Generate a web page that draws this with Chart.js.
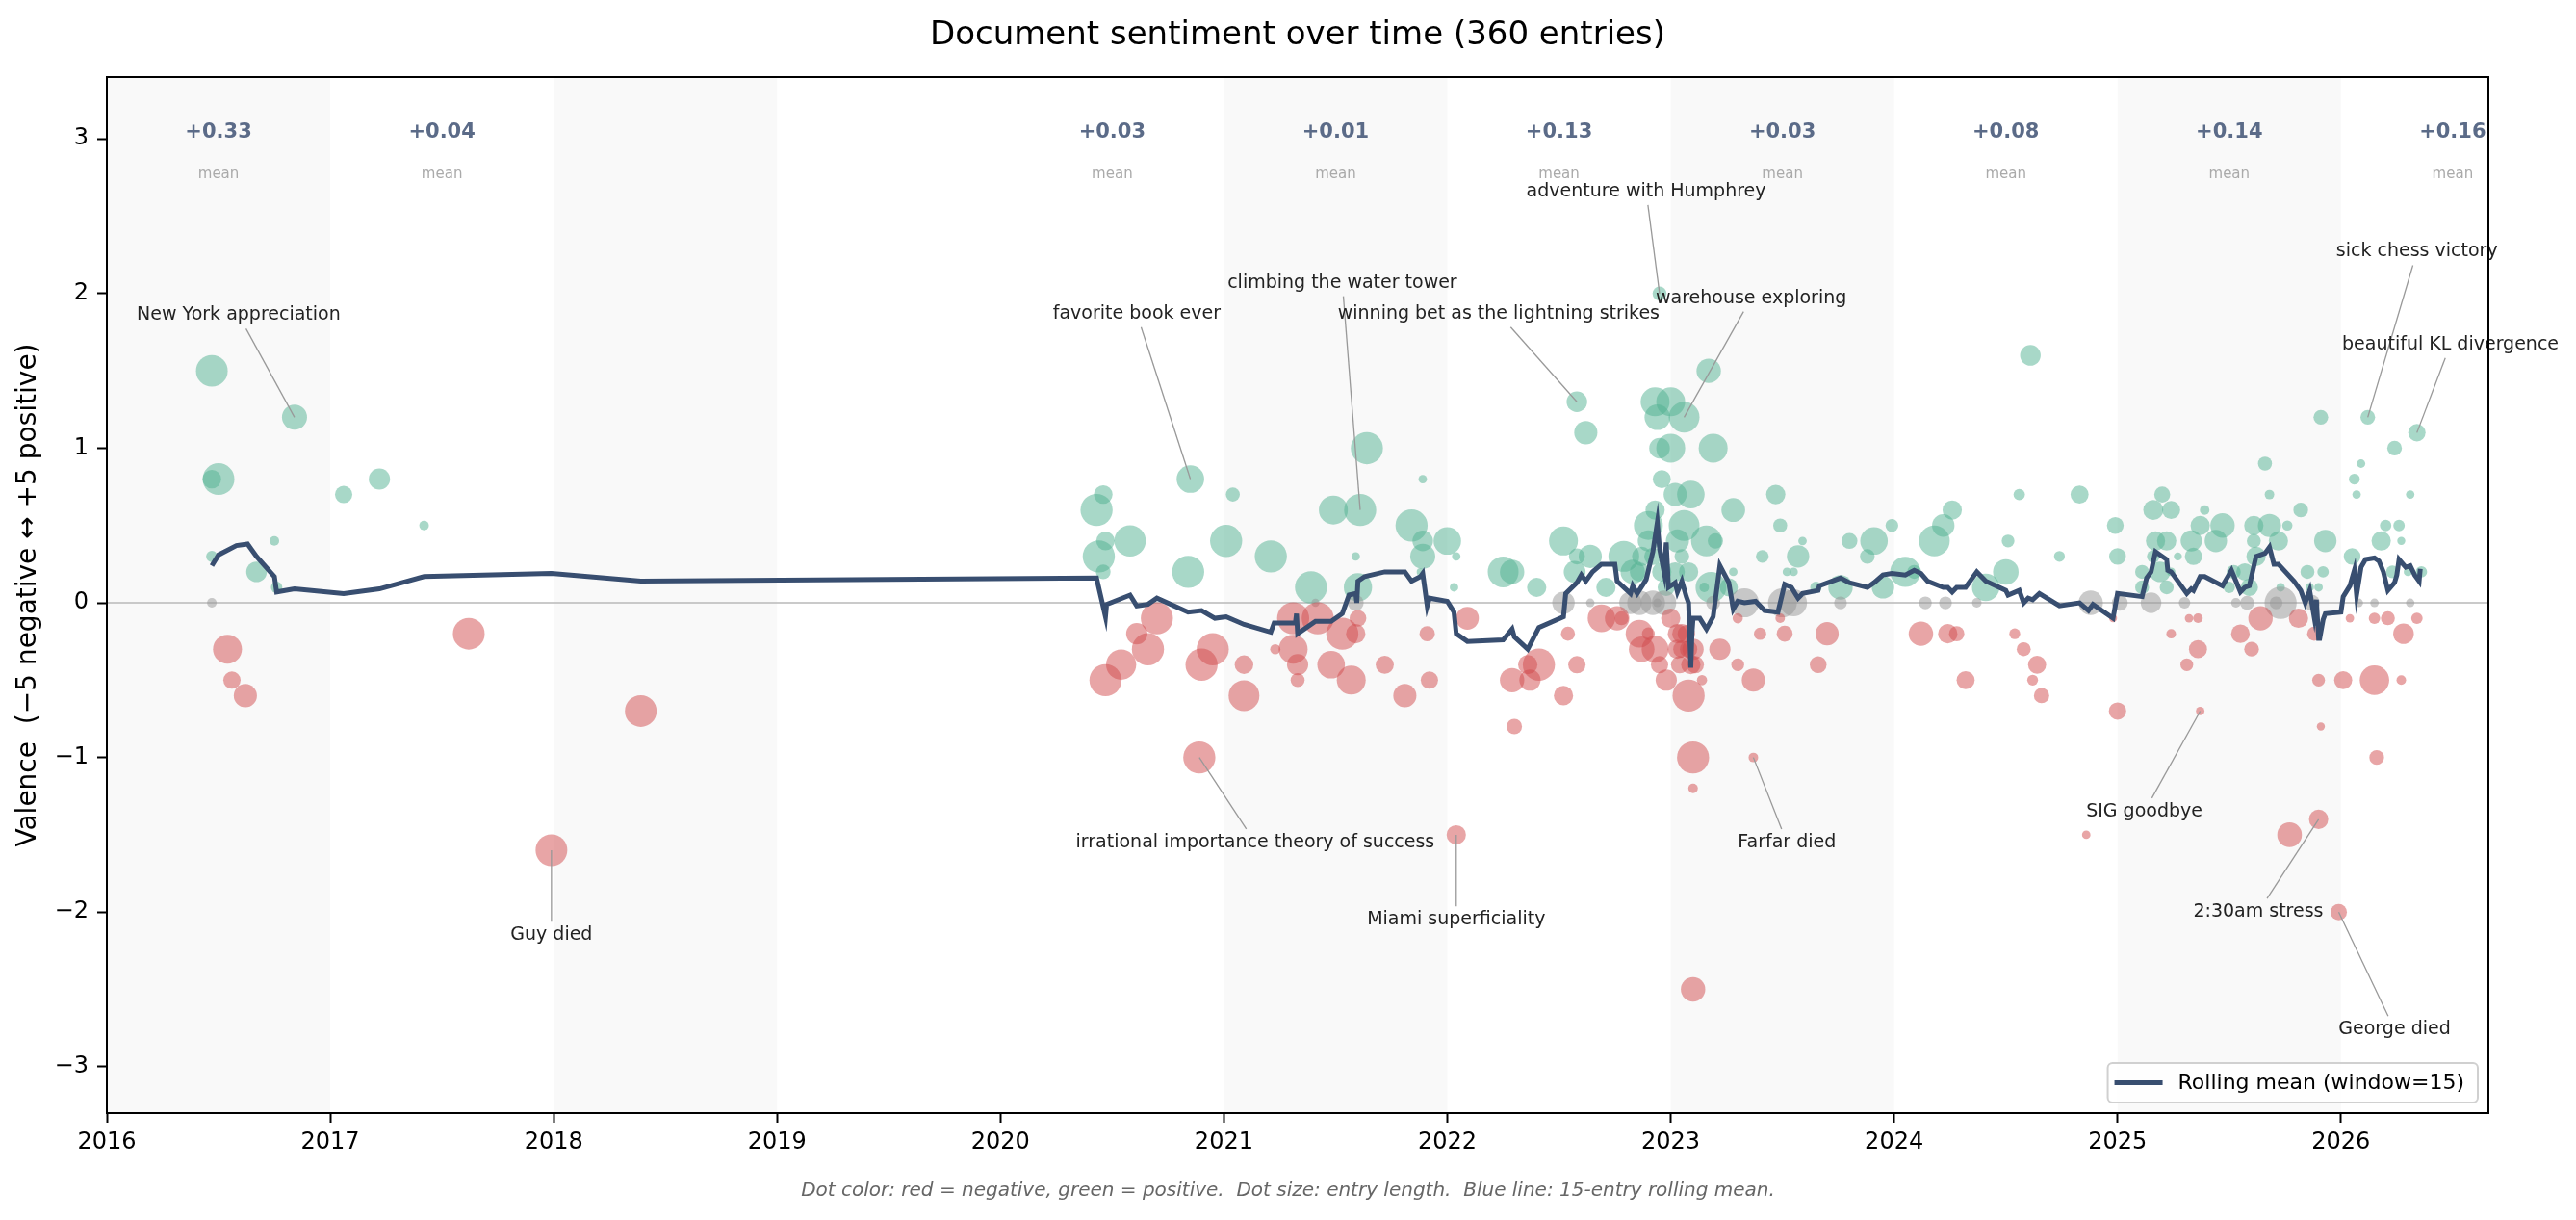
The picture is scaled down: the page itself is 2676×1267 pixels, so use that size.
<!DOCTYPE html>
<html>
<head>
<meta charset="utf-8">
<title>Document sentiment over time</title>
<script src="https://cdn.jsdelivr.net/npm/chart.js@4.4.1/dist/chart.umd.min.js"></script>
<style>
  html, body { margin: 0; padding: 0; background: #fff; }
  canvas { display: block; }
</style>
</head>
<body>
<canvas id="sentimentChart" width="2676" height="1267" style="width:2676px;height:1267px"></canvas>
<script>
// ---- data ----
// entry date as decimal year, valence, entry length (words, approx.)
var entryDate = [
  // 2016 - 2018
  2016.47, 2016.84, 2016.50, 2016.47, 2017.06, 2017.22, 2017.42, 2016.75, 2016.47, 2016.67, 2016.76, 2016.47,
  2016.54, 2016.56, 2016.62, 2017.62, 2018.39, 2017.99,
  // 2020 - 2022 positive / neutral
  2020.46, 2020.43, 2020.47, 2020.58, 2020.44, 2020.46, 2020.85, 2021.04, 2020.84, 2021.01, 2021.21, 2021.39,
  2021.41, 2021.49, 2021.61, 2021.64, 2021.59, 2021.60, 2021.59, 2021.89, 2021.84, 2021.89, 2021.89, 2022.00,
  2022.04, 2022.03, 2021.88,
  // 2020 - 2022 negative
  2020.70, 2020.61, 2020.66, 2020.54, 2020.47, 2020.95, 2020.90, 2020.89, 2021.09, 2021.09, 2021.23, 2021.31,
  2021.42, 2021.31, 2021.33, 2021.33, 2021.53, 2021.59, 2021.60, 2021.48, 2021.57, 2021.72, 2021.81, 2021.91,
  2021.92, 2022.09,
  // 2022 positive
  2022.58, 2022.62, 2022.25, 2022.29, 2022.40, 2022.52, 2022.58, 2022.64, 2022.57, 2022.79, 2022.71, 2022.83,
  2022.86, 2022.90, 2022.93, 2022.96, 2022.87, 2022.90, 2022.92, 2022.96, 2022.98,
  // 2022 neutral
  2022.52, 2022.64, 2022.82, 2022.86, 2022.92, 2022.94, 2022.97,
  // 2022 negative
  2022.04, 2022.54, 2022.58, 2022.52, 2022.30, 2022.41, 2022.36, 2022.29, 2022.37, 2022.69, 2022.76, 2022.78,
  2022.86, 2022.90, 2022.87, 2022.93, 2022.95, 2022.98,
  // 2023 positive
  2022.95, 2023.17, 2022.93, 2023.00, 2022.94, 2023.06, 2022.95, 2023.00, 2023.19, 2023.02, 2023.09, 2023.28,
  2023.47, 2023.49, 2023.06, 2023.03, 2023.16, 2023.20, 2023.05, 2023.41, 2023.57, 2023.59, 2023.08, 2023.28,
  2023.52, 2023.55, 2023.18, 2023.26, 2023.15, 2023.02,
  // 2023 neutral
  2023.33, 2023.50, 2023.55, 2023.19,
  // 2023 negative
  2023.00, 2023.03, 2023.05, 2023.03, 2023.05, 2023.08, 2023.04, 2023.09, 2023.11, 2023.07, 2023.10, 2023.14,
  2023.08, 2023.10, 2023.10, 2023.10, 2023.22, 2023.30, 2023.40, 2023.30, 2023.37, 2023.37, 2023.49,
  // late 2023 - 2024 positive
  2024.61, 2023.65, 2023.76, 2023.80, 2023.91, 2023.88, 2023.99, 2023.95, 2024.05, 2024.09, 2024.18, 2024.22,
  2024.26, 2024.41, 2024.50, 2024.51, 2024.56, 2024.74, 2024.83, 2024.99, 2025.00,
  // late 2023 - 2024 neutral
  2023.76, 2024.14, 2024.23, 2024.37, 2024.88, 2025.01,
  // late 2023 - 2024 negative
  2023.51, 2023.70, 2023.66, 2024.12, 2024.24, 2024.28, 2024.32, 2024.54, 2024.58, 2024.64, 2024.62, 2024.66,
  2024.98, 2025.00, 2024.86,
  // 2025 positive
  2025.66, 2025.68, 2025.20, 2025.16, 2025.24, 2025.39, 2025.82, 2025.37, 2025.47, 2025.61, 2025.68, 2025.76,
  2025.17, 2025.22, 2025.33, 2025.44, 2025.61, 2025.72, 2025.16, 2025.27, 2025.34, 2025.62, 2025.11, 2025.19,
  2025.24, 2025.52, 2025.57, 2025.85, 2025.11, 2025.22, 2025.50, 2025.59, 2025.73,
  // 2025 neutral
  2025.15, 2025.30, 2025.53, 2025.58, 2025.73, 2025.71,
  // 2025 negative
  2025.32, 2025.36, 2025.64, 2025.81, 2025.24, 2025.55, 2025.36, 2025.60, 2025.31, 2025.37, 2025.77, 2025.90,
  2025.99,
  // 2026 positive
  2025.91, 2026.12, 2026.34, 2026.24, 2026.09, 2026.06, 2026.07, 2026.31, 2026.20, 2026.26, 2025.93, 2026.18,
  2026.27, 2026.05, 2025.92, 2026.23, 2026.36, 2026.30, 2025.86, 2025.90,
  // 2026 neutral
  2025.87, 2026.08, 2026.15, 2026.31,
  // 2026 negative
  2026.04, 2026.15, 2026.21, 2026.34, 2025.88, 2026.28, 2025.90, 2026.01, 2026.15, 2026.27, 2025.91, 2026.16
];

var entryValence = [
  // 2016 - 2018
  1.5, 1.2, 0.8, 0.8, 0.7, 0.8, 0.5, 0.4, 0.3, 0.2, 0.1, 0.0,
  -0.3, -0.5, -0.6, -0.2, -0.7, -1.6,
  // 2020 - 2022 positive / neutral
  0.7, 0.6, 0.4, 0.4, 0.3, 0.2, 0.8, 0.7, 0.2, 0.4, 0.3, 0.1,
  0.0, 0.6, 0.6, 1.0, 0.3, 0.1, 0.0, 0.8, 0.5, 0.4, 0.3, 0.4,
  0.3, 0.1, 0.2,
  // 2020 - 2022 negative
  -0.1, -0.2, -0.3, -0.4, -0.5, -0.3, -0.4, -1.0, -0.4, -0.6, -0.3, -0.1,
  -0.1, -0.3, -0.4, -0.5, -0.2, -0.2, -0.1, -0.4, -0.5, -0.4, -0.6, -0.2,
  -0.5, -0.1,
  // 2022 positive
  1.3, 1.1, 0.2, 0.2, 0.1, 0.4, 0.3, 0.3, 0.2, 0.3, 0.1, 0.2,
  0.2, 0.5, 0.6, 0.8, 0.3, 0.4, 0.3, 0.2, 0.1,
  // 2022 neutral
  0, 0, 0, 0, 0, 0, 0,
  // 2022 negative
  -1.5, -0.2, -0.4, -0.6, -0.8, -0.4, -0.4, -0.5, -0.5, -0.1, -0.1, -0.1,
  -0.2, -0.2, -0.3, -0.3, -0.4, -0.5,
  // 2023 positive
  2.0, 1.5, 1.3, 1.3, 1.2, 1.2, 1.0, 1.0, 1.0, 0.7, 0.7, 0.6,
  0.7, 0.5, 0.5, 0.4, 0.4, 0.4, 0.3, 0.3, 0.3, 0.4, 0.2, 0.2,
  0.2, 0.2, 0.1, 0.1, 0.1, 0.2,
  // 2023 neutral
  0, 0, 0, 0,
  // 2023 negative
  -0.1, -0.2, -0.2, -0.3, -0.3, -0.3, -0.4, -0.4, -0.4, -0.2, -0.3, -0.5,
  -0.6, -1.0, -1.2, -2.5, -0.3, -0.1, -0.2, -0.4, -0.5, -1.0, -0.1,
  // late 2023 - 2024 positive
  1.6, 0.1, 0.1, 0.4, 0.4, 0.3, 0.5, 0.1, 0.2, 0.2, 0.4, 0.5,
  0.6, 0.1, 0.2, 0.4, 0.7, 0.3, 0.7, 0.5, 0.3,
  // late 2023 - 2024 neutral
  0, 0, 0, 0, 0, 0,
  // late 2023 - 2024 negative
  -0.2, -0.2, -0.4, -0.2, -0.2, -0.2, -0.5, -0.2, -0.3, -0.4, -0.5, -0.6,
  -0.1, -0.7, -1.5,
  // 2025 positive
  0.9, 0.7, 0.7, 0.6, 0.6, 0.6, 0.6, 0.5, 0.5, 0.5, 0.5, 0.5,
  0.4, 0.4, 0.4, 0.4, 0.4, 0.4, 0.3, 0.3, 0.3, 0.3, 0.2, 0.2,
  0.2, 0.2, 0.2, 0.2, 0.1, 0.1, 0.1, 0.1, 0.1,
  // 2025 neutral
  0, 0, 0, 0, 0, 0,
  // 2025 negative
  -0.1, -0.1, -0.1, -0.1, -0.2, -0.2, -0.3, -0.3, -0.4, -0.7, -1.5, -1.4,
  -2.0,
  // 2026 positive
  1.2, 1.2, 1.1, 1.0, 0.9, 0.8, 0.7, 0.7, 0.5, 0.5, 0.4, 0.4,
  0.4, 0.3, 0.2, 0.2, 0.2, 0.2, 0.1, 0.1,
  // 2026 neutral
  0, 0, 0, 0,
  // 2026 negative
  -0.1, -0.1, -0.1, -0.1, -0.2, -0.2, -0.5, -0.5, -0.5, -0.5, -0.8, -1.0
];

var entryLength = [
  // 2016 - 2018
  1540, 960, 1540, 530, 460, 690, 140, 140, 200, 650, 200, 140,
  1280, 460, 820, 1540, 1540, 1540,
  // 2020 - 2022 positive / neutral
  530, 1580, 530, 1510, 1580, 330, 1160, 300, 1580, 1580, 1580, 1580,
  100, 1280, 1580, 1580, 110, 1220, 390, 110, 1580, 650, 960, 1160,
  110, 110, 90,
  // 2020 - 2022 negative
  1580, 690, 1580, 1390, 1580, 1580, 1580, 1580, 530, 1450, 160, 1580,
  1580, 1280, 690, 300, 1580, 570, 430, 1160, 1280, 500, 820, 360,
  460, 800,
  // 2022 positive
  650, 820, 1450, 910, 570, 1280, 390, 820, 730, 1450, 570, 910,
  570, 1280, 570, 500, 570, 690, 460, 570, 460,
  // 2022 neutral
  770, 110, 770, 910, 910, 110, 910,
  // 2022 negative
  570, 300, 460, 570, 360, 1580, 570, 910, 690, 1160, 910, 300,
  1160, 250, 1000, 1100, 460, 690,
  // 2023 positive
  300, 910, 1280, 1280, 1000, 1450, 650, 1280, 1280, 820, 1160, 860,
  570, 300, 1450, 820, 1450, 360, 330, 250, 770, 110, 570, 110,
  110, 110, 1450, 500, 140, 570,
  // 2023 neutral
  1280, 1280, 1100, 300,
  // 2023 negative
  570, 570, 570, 570, 460, 460, 460, 570, 460, 460, 690, 160,
  1580, 1580, 140, 910, 690, 160, 230, 250, 820, 140, 140,
  // late 2023 - 2024 positive
  650, 200, 910, 390, 1160, 330, 250, 770, 1390, 300, 1450, 770,
  570, 1160, 1000, 250, 200, 180, 500, 430, 430,
  // late 2023 - 2024 neutral
  250, 250, 250, 140, 910, 390,
  // late 2023 - 2024 negative
  390, 820, 430, 910, 570, 360, 500, 180, 300, 500, 180, 360,
  100, 460, 110,
  // 2025 positive
  300, 140, 390, 610, 500, 140, 330, 570, 910, 570, 820, 160,
  570, 570, 690, 770, 300, 570, 250, 100, 460, 570, 300, 650,
  110, 300, 460, 300, 300, 300, 200, 460, 110,
  // 2025 neutral
  650, 200, 140, 300, 1580, 250,
  // 2025 negative
  110, 140, 910, 570, 140, 530, 500, 330, 250, 110, 930, 570,
  410,
  // 2026 positive
  330, 330, 460, 330, 110, 180, 110, 110, 200, 200, 770, 570,
  100, 430, 200, 250, 200, 110, 110, 110,
  // 2026 neutral
  390, 110, 110, 110,
  // 2026 negative
  110, 200, 300, 200, 300, 650, 250, 500, 1330, 140, 100, 330
];

// 15-entry rolling mean, vertices
var rollDate = [
  2016.47, 2016.50, 2016.58, 2016.63, 2016.67, 2016.75, 2016.76, 2016.84, 2017.06, 2017.22,
  2017.42, 2017.99, 2018.39, 2020.43, 2020.47, 2020.475, 2020.58, 2020.61, 2020.66, 2020.70,
  2020.84, 2020.90, 2020.96, 2021.01, 2021.09, 2021.21, 2021.225, 2021.32, 2021.325, 2021.33,
  2021.41, 2021.48, 2021.53, 2021.56, 2021.59, 2021.595, 2021.60, 2021.63, 2021.72, 2021.81,
  2021.84, 2021.88, 2021.89, 2021.91, 2021.92, 2022.00, 2022.03, 2022.04, 2022.09, 2022.25,
  2022.29, 2022.30, 2022.36, 2022.41, 2022.52, 2022.53, 2022.58, 2022.60, 2022.62, 2022.65,
  2022.69, 2022.75, 2022.76, 2022.82, 2022.83, 2022.85, 2022.89, 2022.92, 2022.94, 2022.95,
  2022.97, 2022.98, 2022.99, 2023.02, 2023.03, 2023.05, 2023.07, 2023.08, 2023.09, 2023.095,
  2023.10, 2023.13, 2023.16, 2023.19, 2023.22, 2023.26, 2023.28, 2023.30, 2023.33, 2023.38,
  2023.42, 2023.48, 2023.51, 2023.54, 2023.57, 2023.59, 2023.66, 2023.665, 2023.76, 2023.80,
  2023.88, 2023.91, 2023.95, 2023.99, 2024.05, 2024.09, 2024.12, 2024.15, 2024.22, 2024.24,
  2024.26, 2024.28, 2024.32, 2024.37, 2024.41, 2024.50, 2024.51, 2024.56, 2024.58, 2024.60,
  2024.62, 2024.65, 2024.74, 2024.83, 2024.87, 2024.89, 2024.98, 2025.00, 2025.11, 2025.13,
  2025.15, 2025.17, 2025.19, 2025.22, 2025.225, 2025.24, 2025.31, 2025.33, 2025.34, 2025.37,
  2025.39, 2025.47, 2025.51, 2025.55, 2025.57, 2025.59, 2025.62, 2025.66, 2025.68, 2025.70,
  2025.72, 2025.79, 2025.82, 2025.84, 2025.86, 2025.88, 2025.89, 2025.90, 2025.905, 2025.92,
  2025.93, 2026.00, 2026.01, 2026.04, 2026.06, 2026.07, 2026.09, 2026.11, 2026.15, 2026.17,
  2026.19, 2026.21, 2026.24, 2026.25, 2026.26, 2026.29, 2026.31, 2026.33, 2026.35, 2026.355
];
var rollMean = [
  0.24, 0.31, 0.37, 0.38, 0.30, 0.17, 0.07, 0.09, 0.06, 0.09,
  0.17, 0.19, 0.14, 0.16, -0.09, -0.01, 0.05, -0.02, -0.01, 0.03,
  -0.06, -0.05, -0.10, -0.09, -0.14, -0.19, -0.13, -0.13, -0.07, -0.20,
  -0.12, -0.12, -0.07, 0.05, 0.06, 0.00, 0.14, 0.17, 0.20, 0.20,
  0.14, 0.17, 0.19, -0.02, 0.03, 0.01, -0.06, -0.20, -0.25, -0.24,
  -0.17, -0.22, -0.30, -0.16, -0.09, 0.06, 0.13, 0.18, 0.14, 0.20,
  0.25, 0.25, 0.14, 0.06, 0.11, 0.06, 0.15, 0.33, 0.52, 0.35,
  0.20, 0.39, 0.10, 0.13, 0.07, 0.14, 0.04, 0.00, -0.42, -0.20,
  -0.10, -0.10, -0.17, -0.09, 0.24, 0.13, -0.04, 0.01, 0.00, 0.01,
  -0.05, -0.06, 0.12, 0.10, 0.03, 0.06, 0.08, 0.11, 0.16, 0.13,
  0.10, 0.13, 0.18, 0.19, 0.18, 0.21, 0.19, 0.14, 0.10, 0.10,
  0.07, 0.10, 0.10, 0.20, 0.14, 0.08, 0.05, 0.08, 0.00, 0.03,
  0.02, 0.06, -0.02, 0.00, -0.05, -0.01, -0.10, 0.06, 0.04, 0.16,
  0.20, 0.33, 0.31, 0.28, 0.21, 0.20, 0.06, 0.09, 0.08, 0.17,
  0.17, 0.11, 0.21, 0.07, 0.10, 0.11, 0.30, 0.32, 0.36, 0.25,
  0.25, 0.14, 0.08, 0.00, 0.08, -0.09, 0.02, -0.23, -0.23, -0.11,
  -0.07, -0.06, 0.04, 0.11, 0.21, 0.05, 0.23, 0.28, 0.29, 0.27,
  0.20, 0.08, 0.13, 0.18, 0.28, 0.23, 0.24, 0.18, 0.14, 0.22
];

// per-year mean valence shown at the top
var meanYears = [2016, 2017, 2020, 2021, 2022, 2023, 2024, 2025, 2026];
var meanValues = [0.33, 0.04, 0.03, 0.01, 0.13, 0.03, 0.08, 0.14, 0.16];
// alternate year bands that are shaded
var shadedYears = [2016, 2018, 2021, 2023, 2025];

var xTicks = [2016, 2017, 2018, 2019, 2020, 2021, 2022, 2023, 2024, 2025, 2026];
var yTicks = [-3, -2, -1, 0, 1, 2, 3];

// labelled entries: text placement and the dot it points at
var notes = [
  { text: 'New York appreciation', at: [2016.59, 1.86], to: [2016.84, 1.20] },
  { text: 'Guy died', at: [2017.99, -2.15], to: [2017.99, -1.6] },
  { text: 'favorite book ever', at: [2020.61, 1.87], to: [2020.85, 0.8] },
  { text: 'climbing the water tower', at: [2021.53, 2.07], to: [2021.61, 0.6] },
  { text: 'winning bet as the lightning strikes', at: [2022.23, 1.87], to: [2022.58, 1.3] },
  { text: 'adventure with Humphrey', at: [2022.89, 2.66], to: [2022.95, 2.0] },
  { text: 'warehouse exploring', at: [2023.36, 1.97], to: [2023.06, 1.2] },
  { text: 'irrational importance theory of success', at: [2021.14, -1.55], to: [2020.89, -1.0] },
  { text: 'Miami superficiality', at: [2022.04, -2.05], to: [2022.04, -1.5] },
  { text: 'Farfar died', at: [2023.52, -1.55], to: [2023.37, -1.0] },
  { text: 'SIG goodbye', at: [2025.12, -1.35], to: [2025.37, -0.7] },
  { text: '2:30am stress', at: [2025.63, -2.0], to: [2025.90, -1.4] },
  { text: 'George died', at: [2026.24, -2.76], to: [2025.99, -2.0] },
  { text: 'sick chess victory', at: [2026.34, 2.27], to: [2026.12, 1.2] },
  { text: 'beautiful KL divergence', at: [2026.49, 1.67], to: [2026.34, 1.1] }
];

// ---- styling ----
var FONT = '"DejaVu Sans", sans-serif';
var LINE_COLOR = '#384e70';
Chart.defaults.font.family = FONT;
Chart.defaults.color = '#000';

function dotColor(v) {
  if (v > 0) return 'rgba(81,177,145,0.5)';
  if (v < 0) return 'rgba(209,75,77,0.5)';
  return 'rgba(150,150,150,0.5)';
}

var bubbles = entryDate.map(function (d, i) {
  return { x: d, y: entryValence[i], r: Math.sqrt(entryLength[i]) * 0.42 };
});
var rolling = rollDate.map(function (d, i) {
  return { x: d, y: rollMean[i] };
});

// background bands, zero line, labels, frame, title, legend
var decor = {
  id: 'decor',
  beforeDraw: function (chart) {
    var ctx = chart.ctx, a = chart.chartArea, x = chart.scales.x;
    ctx.save();
    ctx.fillStyle = '#f9f9f9';
    shadedYears.forEach(function (yr) {
      var x0 = Math.max(x.getPixelForValue(yr), a.left);
      var x1 = Math.min(x.getPixelForValue(yr + 1), a.right);
      ctx.fillRect(x0, a.top, x1 - x0, a.bottom - a.top);
    });
    ctx.restore();
  },
  beforeDatasetsDraw: function (chart) {
    var ctx = chart.ctx, a = chart.chartArea, y = chart.scales.y;
    var y0 = y.getPixelForValue(0);
    ctx.save();
    ctx.strokeStyle = '#b8b8b8';
    ctx.lineWidth = 1.6;
    ctx.beginPath();
    ctx.moveTo(a.left, y0);
    ctx.lineTo(a.right, y0);
    ctx.stroke();
    ctx.restore();
  },
  afterDatasetsDraw: function (chart) {
    var ctx = chart.ctx, x = chart.scales.x, y = chart.scales.y;
    ctx.save();
    // per-year means
    ctx.textAlign = 'center';
    ctx.textBaseline = 'middle';
    meanYears.forEach(function (yr, i) {
      var px = x.getPixelForValue(yr + 0.5);
      ctx.font = 'bold 21px ' + FONT;
      ctx.fillStyle = '#5b6b88';
      ctx.fillText('+' + meanValues[i].toFixed(2), px, y.getPixelForValue(3.04));
      ctx.font = '15px ' + FONT;
      ctx.fillStyle = '#aaaaaa';
      ctx.fillText('mean', px, y.getPixelForValue(2.77));
    });
    // annotations
    ctx.font = '19px ' + FONT;
    notes.forEach(function (n) {
      var tx = x.getPixelForValue(n.at[0]), ty = y.getPixelForValue(n.at[1]);
      var px = x.getPixelForValue(n.to[0]), py = y.getPixelForValue(n.to[1]);
      var hw = ctx.measureText(n.text).width / 2 + 5, hh = 9 + 5;
      var dx = px - tx, dy = py - ty;
      var t = Math.min(hw / Math.max(Math.abs(dx), 1e-6), hh / Math.max(Math.abs(dy), 1e-6));
      ctx.strokeStyle = '#999999';
      ctx.lineWidth = 1.3;
      ctx.beginPath();
      ctx.moveTo(tx + dx * t, ty + dy * t);
      ctx.lineTo(px, py);
      ctx.stroke();
      ctx.fillStyle = '#222222';
      ctx.fillText(n.text, tx, ty);
    });
    ctx.restore();
  },
  afterDraw: function (chart) {
    var ctx = chart.ctx, a = chart.chartArea;
    ctx.save();
    // axes frame
    ctx.strokeStyle = '#000';
    ctx.lineWidth = 2;
    ctx.strokeRect(a.left, a.top, a.right - a.left, a.bottom - a.top);
    // title
    ctx.fillStyle = '#000';
    ctx.textAlign = 'center';
    ctx.textBaseline = 'middle';
    ctx.font = '34px ' + FONT;
    ctx.fillText('Document sentiment over time (360 entries)', (a.left + a.right) / 2, 37);
    // y axis label
    ctx.save();
    ctx.translate(30, (a.top + a.bottom) / 2);
    ctx.rotate(-Math.PI / 2);
    ctx.font = '28px ' + FONT;
    ctx.fillText('Valence  (\u22125 negative \u2194 +5 positive)', 0, 0);
    ctx.restore();
    // footer note
    ctx.font = 'italic 20px ' + FONT;
    ctx.fillStyle = '#666666';
    ctx.fillText('Dot color: red = negative, green = positive.  Dot size: entry length.  Blue line: 15-entry rolling mean.', 1338, 1237);
    // legend
    var label = chart.data.datasets[0].label;
    ctx.font = '22px ' + FONT;
    var w = 73 + ctx.measureText(label).width + 14, h = 41;
    var lx = a.right - 11 - w, ly = a.bottom - 11 - h;
    ctx.beginPath();
    ctx.roundRect(lx, ly, w, h, 5);
    ctx.fillStyle = 'rgba(255,255,255,0.85)';
    ctx.fill();
    ctx.strokeStyle = '#d0d0d0';
    ctx.lineWidth = 2;
    ctx.stroke();
    ctx.strokeStyle = LINE_COLOR;
    ctx.lineWidth = 5;
    ctx.beginPath();
    ctx.moveTo(lx + 7, ly + h / 2);
    ctx.lineTo(lx + 57, ly + h / 2);
    ctx.stroke();
    ctx.fillStyle = '#000';
    ctx.textAlign = 'left';
    ctx.fillText(label, lx + 73, ly + h / 2 + 1);
    ctx.restore();
  }
};

new Chart(document.getElementById('sentimentChart'), {
  type: 'bubble',
  data: {
    datasets: [
      {
        type: 'line',
        label: 'Rolling mean (window=15)',
        data: rolling,
        borderColor: LINE_COLOR,
        borderWidth: 5,
        pointRadius: 0,
        tension: 0,
        fill: false,
        order: 0
      },
      {
        label: 'Entries',
        data: bubbles,
        backgroundColor: function (c) { return dotColor(c.raw ? c.raw.y : 0); },
        borderWidth: 0,
        order: 1
      }
    ]
  },
  options: {
    responsive: false,
    devicePixelRatio: 1,
    animation: false,
    events: [],
    layout: { padding: { top: 80, right: 91, left: 0, bottom: 0 } },
    plugins: {
      legend: { display: false },
      tooltip: { enabled: false },
      title: { display: false }
    },
    scales: {
      x: {
        type: 'linear',
        min: 2016,
        max: 2026.66,
        afterBuildTicks: function (s) { s.ticks = xTicks.map(function (v) { return { value: v }; }); },
        afterFit: function (s) { s.height = 111; },
        ticks: { font: { size: 24 }, color: '#000', padding: 6, maxRotation: 0, autoSkip: false,
                 callback: function (v) { return String(v); } },
        grid: { drawOnChartArea: false, drawTicks: true, tickLength: 10, tickWidth: 2, color: '#000' },
        border: { display: false }
      },
      y: {
        type: 'linear',
        min: -3.3,
        max: 3.4,
        afterBuildTicks: function (s) { s.ticks = yTicks.map(function (v) { return { value: v }; }); },
        afterFit: function (s) { s.width = 111; },
        ticks: { font: { size: 24 }, color: '#000', padding: 9, autoSkip: false,
                 callback: function (v) { return v < 0 ? '\u2212' + Math.abs(v) : String(v); } },
        grid: { drawOnChartArea: false, drawTicks: true, tickLength: 10, tickWidth: 2, color: '#000' },
        border: { display: false }
      }
    }
  },
  plugins: [decor]
});
</script>
</body>
</html>
